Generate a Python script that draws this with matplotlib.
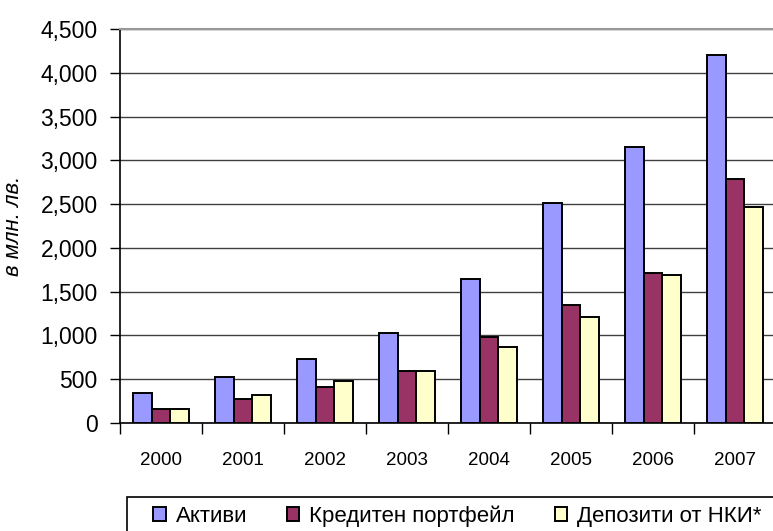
import numpy as np
import matplotlib.pyplot as plt
from matplotlib.patches import Rectangle
from matplotlib.ticker import FuncFormatter

# Data (млн. лв.)
years = ['2000', '2001', '2002', '2003', '2004', '2005', '2006', '2007']
assets = [346, 529, 734, 1031, 1645, 2516, 3156, 4206]
loans = [160, 278, 415, 594, 982, 1351, 1710, 2787]
deposits = [160, 323, 480, 594, 868, 1207, 1690, 2470]
labels = ['Активи', 'Кредитен портфейл', 'Депозити от НКИ*']
colors = ['#9999FF', '#993366', '#FFFFCC']

plt.rcParams['font.family'] = ['Liberation Sans', 'DejaVu Sans']

fig = plt.figure(figsize=(7.73, 5.31), dpi=100)
ax = fig.add_axes([120 / 773, 1 - 423 / 531, 656 / 773, 394 / 531])

x = np.arange(len(years))
width = 0.224
series = [assets, loans, deposits]
for i, vals in enumerate(series):
    ax.bar(x + (i - 1) * width, vals, width, color=colors[i],
           edgecolor='black', linewidth=1.4, label=labels[i], zorder=3)

# Axis limits and grid
ax.set_xlim(-0.5, 7.5)
ax.set_ylim(0, 4500)
ax.set_yticks(np.arange(0, 4501, 500))
ax.yaxis.set_major_formatter(FuncFormatter(lambda v, p: '{:,.0f}'.format(v)))
ax.grid(axis='y', color='#404040', linewidth=1, zorder=0)
ax.tick_params(axis='y', length=7, width=1, pad=9, labelsize=16.5,
               colors='black', direction='out')

# Ticks between categories, labels centred under them
ax.set_xticks(np.arange(-0.5, 8.0, 1.0))
ax.set_xticklabels([])
ax.tick_params(axis='x', which='major', length=8, width=1, direction='out')
ax.set_xticks(x, minor=True)
ax.set_xticklabels(years, minor=True)
ax.tick_params(axis='x', which='minor', length=0, pad=21, labelsize=13.5)

for side in ['left', 'bottom']:
    ax.spines[side].set_color('black')
    ax.spines[side].set_linewidth(1.2)
ax.spines['top'].set_color('#999999')
ax.spines['top'].set_linewidth(1.5)
ax.spines['right'].set_visible(False)

ax.set_ylabel('в млн. лв.', fontsize=16, style='italic')
ax.yaxis.set_label_coords(-0.146, 0.5)

# Legend box runs off the right and bottom edges of the picture
fig.patches.append(Rectangle((127 / 773, -0.05), 0.9, 1 - 497 / 531 + 0.05,
                             transform=fig.transFigure, fill=False,
                             edgecolor='black', linewidth=1.2))
ax.legend(loc='upper left', bbox_to_anchor=(149 / 773, 1 - 501 / 531),
          bbox_transform=fig.transFigure, ncol=3, fontsize=16,
          frameon=False, borderpad=0.2,
          handlelength=0.55, handleheight=0.55, handletextpad=0.45,
          columnspacing=1.8, borderaxespad=0)

fig.savefig('out.png', dpi=100)
